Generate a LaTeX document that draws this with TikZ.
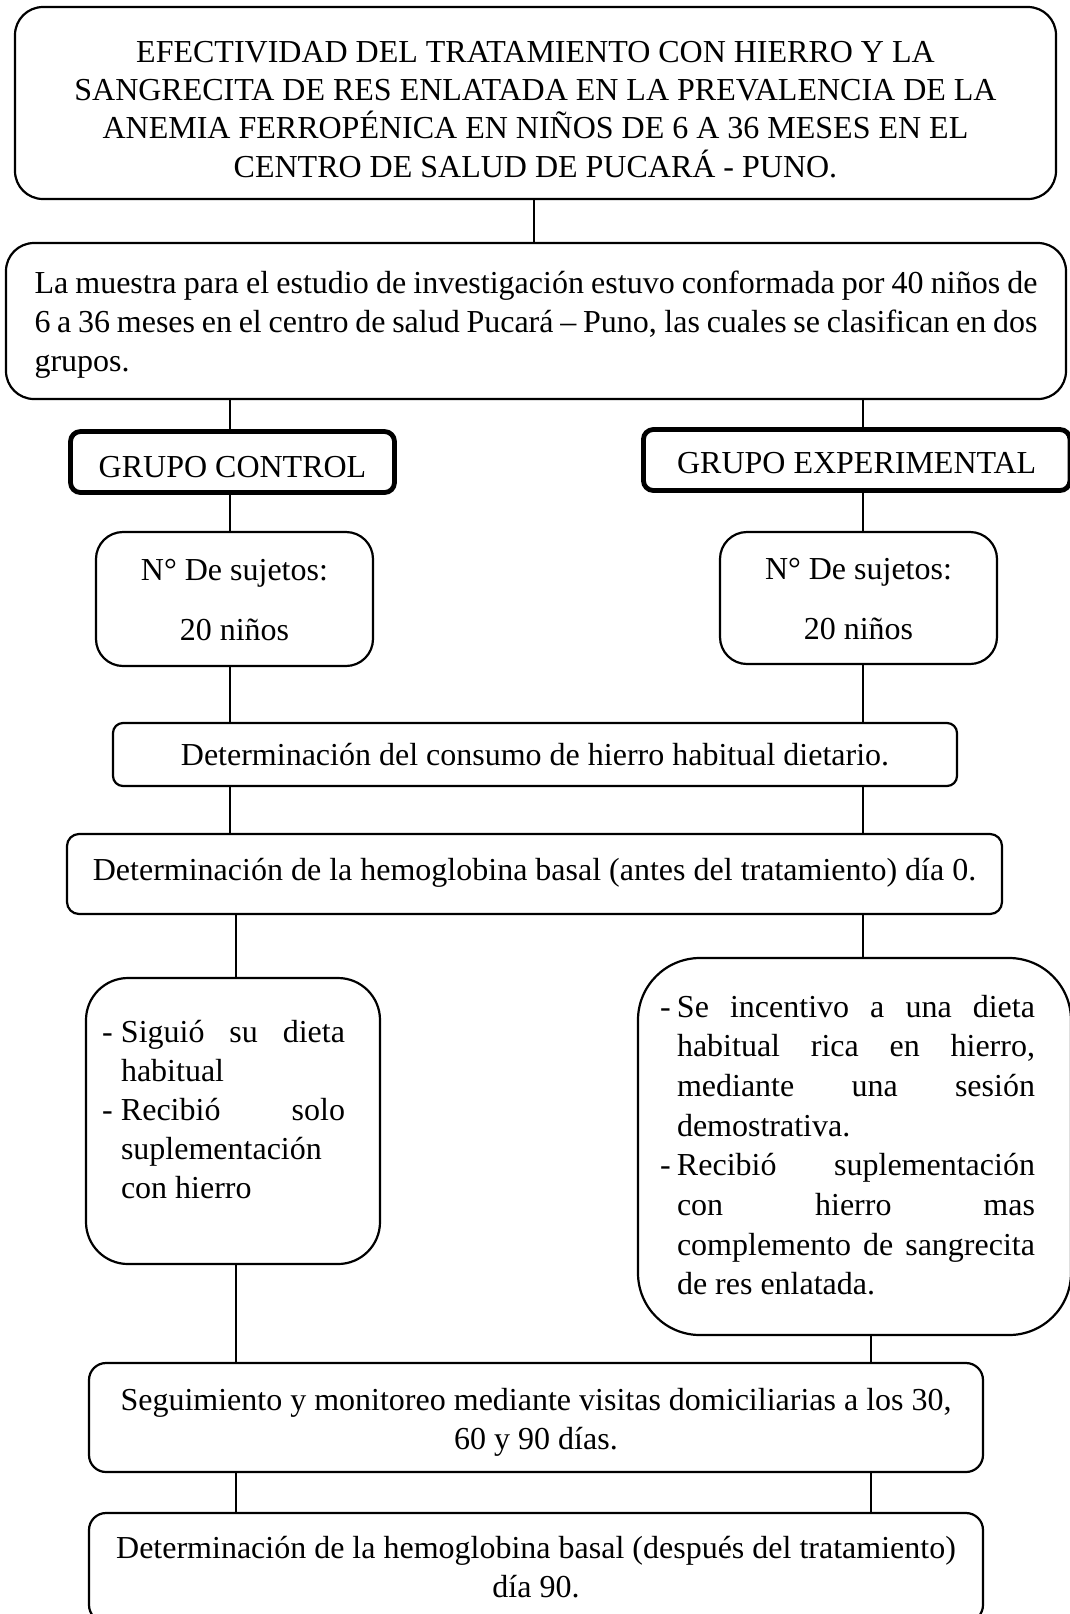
\documentclass[tikz,border=0pt]{standalone}
\usepackage{fontspec}
\setmainfont{Liberation Serif}
\usepackage{tikz}

\newcommand{\linjust}[2]{\makebox[#1][s]{\spaceskip=.1em plus 1fil\relax #2}}
\newcommand{\guion}[1]{\makebox[#1][l]{-}}

\begin{document}
\begin{tikzpicture}[x=0.5pt, y=-0.5pt, font=\fontsize{16pt}{19.5pt}\selectfont,
    execute at begin node={\spaceskip=.25em\xspaceskip=.25em\relax},
    caja/.style={draw, line width=1.1pt, rounded corners=#1, inner sep=0pt},
    caja/.default=6pt,
    grupo/.style={draw, line width=2.4pt, rounded corners=5pt, inner sep=0pt},
    linea/.style={line width=0.6pt}]
        \useasboundingbox (0,0) rectangle (1070,1614);

        \node[caja=14pt, minimum width=520.5pt, minimum height=96pt, text width=500pt, align=center,
              text height=0pt, text depth=41pt, font=\fontsize{16pt}{19.2pt}\selectfont]
              (titulo) at (535.5,103)
              {EFECTIVIDAD DEL TRATAMIENTO CON HIERRO Y LA\\
               SANGRECITA DE RES ENLATADA EN LA PREVALENCIA DE LA\\
               ANEMIA FERROPÉNICA EN NIÑOS DE 6 A 36 MESES EN EL\\
               CENTRO DE SALUD DE PUCARÁ - PUNO.};
        \node[caja=14pt, minimum width=530pt, minimum height=78pt, text width=501.5pt, align=left,
              text height=0pt, text depth=28pt]
              (muestra) at (536,321)
              {\linjust{501.5pt}{La muestra para el estudio de investigación estuvo conformada por 40 niños de}\\
               \linjust{501.5pt}{6 a 36 meses en el centro de salud Pucará – Puno, las cuales se clasifican en dos}\\
               grupos.};

        \node[grupo, minimum width=162pt, minimum height=30.5pt, text height=15pt, text depth=0pt]
              (control) at (232.5,462) {GRUPO CONTROL};
        \node[grupo, minimum width=213.3pt, minimum height=30.5pt, text height=13pt, text depth=0pt]
              (experimental) at (856.7,460) {GRUPO EXPERIMENTAL};

        \node[caja=13.5pt, minimum width=138.5pt, minimum height=67pt, text width=130pt, align=center,
              text height=0pt, text depth=19pt]
              (n1) at (234.5,599) {N° De sujetos:\\[10.5pt]20 niños};
        \node[caja=13.5pt, minimum width=138.5pt, minimum height=66pt, text width=130pt, align=center,
              text height=0pt, text depth=19pt]
              (n2) at (858.5,598) {N° De sujetos:\\[10.5pt]20 niños};

        \node[caja=5pt, minimum width=422pt, minimum height=31.5pt, text height=10.5pt, text depth=0pt]
              (consumo) at (535,754.5) {Determinación del consumo de hierro habitual dietario.};
        \node[caja=6pt, minimum width=467.5pt, minimum height=40pt, text height=6pt, text depth=0pt]
              (basal) at (534.5,874) {Determinación de la hemoglobina basal (antes del tratamiento) día 0.};

        \node[caja=21pt, minimum width=147pt, minimum height=143pt, text width=131pt, align=left,
              text height=0pt, text depth=79pt]
              (lista1) at (233,1121)
              {\guion{9.5pt}\linjust{112pt}{Siguió su dieta}\\
               \hspace*{9.5pt}habitual\\
               \guion{9.5pt}\linjust{112pt}{Recibió solo}\\
               \hspace*{9.5pt}suplementación\\
               \hspace*{9.5pt}con hierro};
        \node[caja=31pt, minimum width=216.5pt, minimum height=188.5pt, text width=194.5pt, align=left,
              text height=0pt, text depth=129.5pt, font=\fontsize{16pt}{19.85pt}\selectfont]
              (lista2) at (854.5,1146.5)
              {\guion{8.5pt}\linjust{179pt}{Se incentivo a una dieta}\\
               \hspace*{8.5pt}\linjust{179pt}{habitual rica en hierro,}\\
               \hspace*{8.5pt}\linjust{179pt}{mediante una sesión}\\
               \hspace*{8.5pt}demostrativa.\\
               \guion{8.5pt}\linjust{179pt}{Recibió suplementación}\\
               \hspace*{8.5pt}\linjust{179pt}{con hierro mas}\\
               \hspace*{8.5pt}\linjust{179pt}{complemento de sangrecita}\\
               \hspace*{8.5pt}de res enlatada.};

        \node[caja=8.5pt, minimum width=447pt, minimum height=54.5pt, text width=440pt, align=center,
              text height=0pt, text depth=7.5pt]
              (seguimiento) at (536,1417.5)
              {Seguimiento y monitoreo mediante visitas domiciliarias a los 30,\\
               60 y 90 días.};
        \node[caja=8.5pt, minimum width=447pt, minimum height=54.5pt, text width=440pt, align=center,
              text height=0pt, text depth=9.5pt]
              (final) at (536,1567.5)
              {Determinación de la hemoglobina basal (después del tratamiento)\\
               día 90.};

        \coordinate (medio) at (534,0);
        \coordinate (izq) at (230,0);
        \coordinate (izq2) at (236,0);
        \coordinate (der) at (863,0);
        \coordinate (der2) at (871,0);

        \draw [linea] (titulo.south -| medio) -- (muestra.north -| medio);
        \draw [linea] (muestra.south -| izq) -- (control.north -| izq);
        \draw [linea] (muestra.south -| der) -- (experimental.north -| der);
        \draw [linea] (control.south -| izq) -- (n1.north -| izq);
        \draw [linea] (experimental.south -| der) -- (n2.north -| der);
        \draw [linea] (n1.south -| izq) -- (consumo.north -| izq);
        \draw [linea] (n2.south -| der) -- (consumo.north -| der);
        \draw [linea] (consumo.south -| izq) -- (basal.north -| izq);
        \draw [linea] (consumo.south -| der) -- (basal.north -| der);
        \draw [linea] (basal.south -| izq2) -- (lista1.north -| izq2);
        \draw [linea] (basal.south -| der) -- (lista2.north -| der);
        \draw [linea] (lista1.south -| izq2) -- (seguimiento.north -| izq2);
        \draw [linea] (lista2.south -| der2) -- (seguimiento.north -| der2);
        \draw [linea] (seguimiento.south -| izq2) -- (final.north -| izq2);
        \draw [linea] (seguimiento.south -| der2) -- (final.north -| der2);
      \end{tikzpicture}
\end{document}
